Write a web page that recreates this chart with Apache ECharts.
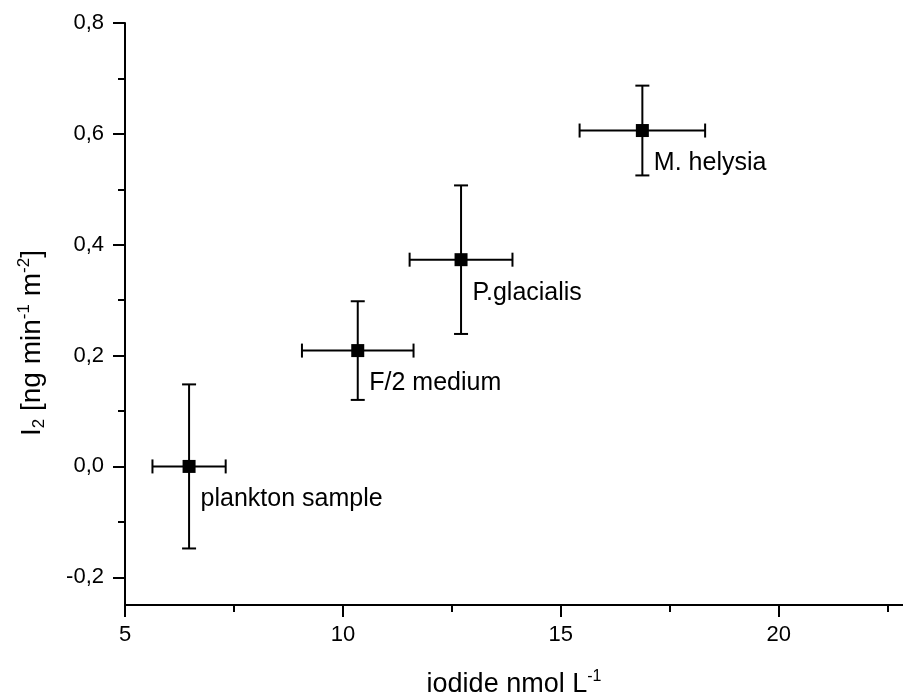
<!DOCTYPE html>
<html>
<head>
<meta charset="utf-8">
<script src="https://cdn.jsdelivr.net/npm/echarts@6/dist/echarts.min.js"></script>
<style>
  html, body { margin: 0; padding: 0; background: #fff; }
  #chart { width: 903px; height: 698px; }
</style>
</head>
<body>
<div id="chart"></div>
<script>
// ---- data ----
var sampleNames = ['plankton sample', 'F/2 medium', 'P.glacialis', 'M. helysia'];
var iodideValues = [6.47, 10.34, 12.71, 16.87];
var iodineValues = [0.0, 0.209, 0.373, 0.606];
var iodideErrors = [0.84, 1.28, 1.18, 1.44];
var iodineErrors = [0.148, 0.089, 0.134, 0.081];

var xMajorTicks = [5, 10, 15, 20];
var xMinorTicks = [7.5, 12.5, 17.5, 22.5];
var yMajorTicks = [-0.2, 0.0, 0.2, 0.4, 0.6, 0.8];
var yMinorTicks = [-0.1, 0.1, 0.3, 0.5, 0.7];

var xMin = 5, xMax = 22.85, yMin = -0.25, yMax = 0.8;

// ---- chart ----
var chart = echarts.init(document.getElementById('chart'));
var FONT = 'Liberation Sans, Arial, sans-serif';
var INK = '#000';

function fmt(v) { return v.toFixed(1).replace('.', ','); }
function fmtX(v) { return String(v); }

var pointData = iodideValues.map(function (x, i) { return [x, iodineValues[i]]; });
var errData = iodideValues.map(function (x, i) {
  return [x, iodineValues[i], iodideErrors[i], iodineErrors[i]];
});

var titleRich = {
  m: { fontSize: 27, fontFamily: FONT, color: INK, lineHeight: 32, verticalAlign: 'middle' },
  sup: { fontSize: 16, fontFamily: FONT, color: INK, lineHeight: 16, verticalAlign: 'top' },
  sub: { fontSize: 16, fontFamily: FONT, color: INK, lineHeight: 16, verticalAlign: 'bottom' }
};
var yTitleRich = {
  m: { fontSize: 28, fontFamily: FONT, color: INK, lineHeight: 32, verticalAlign: 'middle' },
  sup: { fontSize: 17, fontFamily: FONT, color: INK, lineHeight: 17, verticalAlign: 'top' },
  sub: { fontSize: 17, fontFamily: FONT, color: INK, lineHeight: 17, verticalAlign: 'bottom' }
};

function baseAxis(min, max) {
  return {
    type: 'value', min: min, max: max, gridIndex: 0,
    splitLine: { show: false }
  };
}

var xMain = Object.assign(baseAxis(xMin, xMax), {
  position: 'bottom', offset: 0,
  name: '{m|iodide nmol L}{sup|-1}',
  nameLocation: 'middle',
  nameGap: 64,
  nameTextStyle: { rich: titleRich },
  axisLine: { show: true, onZero: false, lineStyle: { color: INK, width: 2 } },
  axisTick: { show: true, inside: false, length: 12, customValues: xMajorTicks, lineStyle: { color: INK, width: 2 } },
  axisLabel: { show: true, customValues: xMajorTicks, formatter: fmtX, margin: 19, color: INK, fontSize: 22, fontFamily: FONT }
});
var xMinor = Object.assign(baseAxis(xMin, xMax), {
  position: 'bottom', offset: 0,
  axisLine: { show: false, onZero: false },
  axisTick: { show: true, inside: false, length: 7, customValues: xMinorTicks, lineStyle: { color: INK, width: 2 } },
  axisLabel: { show: false }
});
var yMain = Object.assign(baseAxis(yMin, yMax), {
  position: 'left', offset: 0,
  axisLine: { show: true, onZero: false, lineStyle: { color: INK, width: 2 } },
  axisTick: { show: true, inside: false, length: 12, customValues: yMajorTicks, lineStyle: { color: INK, width: 2 } },
  axisLabel: { show: true, customValues: yMajorTicks, formatter: fmt, margin: 21, color: INK, fontSize: 22, fontFamily: FONT }
});
var yMinor = Object.assign(baseAxis(yMin, yMax), {
  position: 'left', offset: 0,
  axisLine: { show: false, onZero: false },
  axisTick: { show: true, inside: false, length: 7, customValues: yMinorTicks, lineStyle: { color: INK, width: 2 } },
  axisLabel: { show: false }
});

var option = {
  animation: false,
  backgroundColor: '#fff',
  grid: { left: 125, top: 23, right: 0, bottom: 93, containLabel: false, outerBoundsMode: 'none' },
  xAxis: [xMain, xMinor],
  yAxis: [yMain, yMinor],
  graphic: [
    {
      type: 'text', x: 16, y: 436, rotation: Math.PI / 2,
      z: 10,
      style: {
        text: '{m|I}{sub|2}{m| [ng min}{sup|-1}{m| m}{sup|-2}{m|]}',
        rich: yTitleRich,
        align: 'left', verticalAlign: 'top'
      }
    }
  ],
  series: [
    {
      type: 'custom',
      xAxisIndex: 0, yAxisIndex: 0,
      data: errData,
      z: 2,
      renderItem: function (params, api) {
        var x = api.value(0), y = api.value(1), ex = api.value(2), ey = api.value(3);
        var l = api.coord([x - ex, y]), r = api.coord([x + ex, y]);
        var t = api.coord([x, y + ey]), b = api.coord([x, y - ey]);
        var cap = 7;
        var st = { stroke: INK, lineWidth: 2 };
        return {
          type: 'group',
          children: [
            { type: 'line', shape: { x1: l[0], y1: l[1], x2: r[0], y2: r[1] }, style: st },
            { type: 'line', shape: { x1: l[0], y1: l[1] - cap, x2: l[0], y2: l[1] + cap }, style: st },
            { type: 'line', shape: { x1: r[0], y1: r[1] - cap, x2: r[0], y2: r[1] + cap }, style: st },
            { type: 'line', shape: { x1: t[0], y1: t[1], x2: b[0], y2: b[1] }, style: st },
            { type: 'line', shape: { x1: t[0] - cap, y1: t[1], x2: t[0] + cap, y2: t[1] }, style: st },
            { type: 'line', shape: { x1: b[0] - cap, y1: b[1], x2: b[0] + cap, y2: b[1] }, style: st }
          ]
        };
      }
    },
    {
      type: 'scatter',
      xAxisIndex: 0, yAxisIndex: 0,
      data: pointData,
      symbol: 'rect',
      symbolSize: 13,
      z: 3,
      itemStyle: { color: INK, opacity: 1 },
      label: {
        show: true,
        position: 'right',
        offset: [0, 33],
        formatter: function (p) { return sampleNames[p.dataIndex]; },
        color: INK, opacity: 1, fontSize: 25, fontFamily: FONT
      }
    }
  ]
};
chart.setOption(option);
</script>
</body>
</html>
